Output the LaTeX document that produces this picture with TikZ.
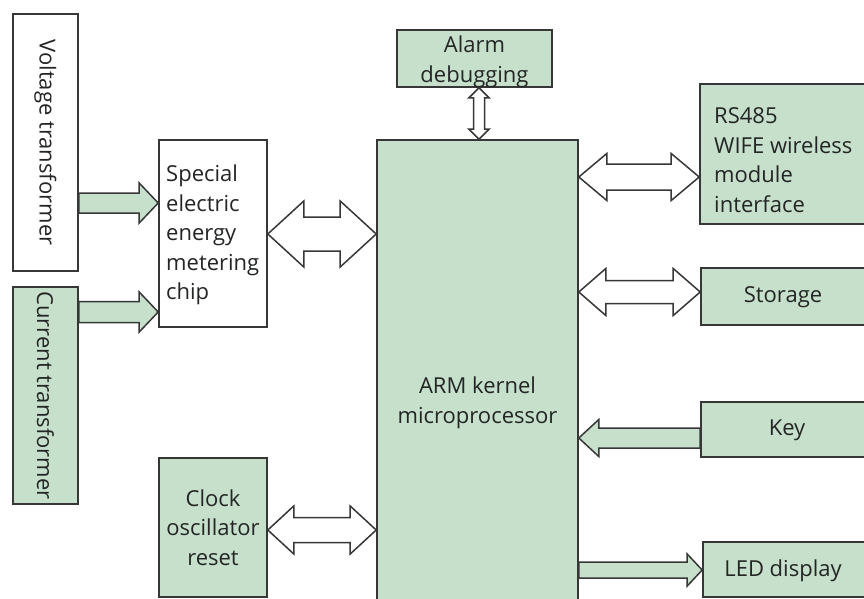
\documentclass[tikz,border=0pt]{standalone}
\usepackage{fontspec}
\setmainfont{Open Sans}
\usetikzlibrary{calc}
\definecolor{gfill}{RGB}{198,224,204}
\definecolor{lc}{RGB}{55,55,55}
\definecolor{tc}{RGB}{35,38,36}
% horizontal double arrow: #1 style, #2 left tip, #3 right tip, #4 head length, #5 head half-width, #6 body half-width
\newcommand{\DblH}[6]{\draw[#1] (#2) -- ++(#4,-#5) -- ++(0,#5-#6) -- ($(#3)+(-#4,-#6)$) -- ++(0,#6-#5) -- (#3) -- ++(-#4,#5) -- ++(0,#6-#5) -- ($(#2)+(#4,#6)$) -- ++(0,#5-#6) -- cycle;}
% vertical double arrow: #2 top tip, #3 bottom tip
\newcommand{\DblV}[6]{\draw[#1] (#2) -- ++(#5,#4) -- ++(#6-#5,0) -- ($(#3)+(#6,-#4)$) -- ++(#5-#6,0) -- (#3) -- ++(-#5,-#4) -- ++(#5-#6,0) -- ($(#2)+(-#6,#4)$) -- ++(#6-#5,0) -- cycle;}
% single arrow pointing right: #2 tail, #3 tip
\newcommand{\SglR}[6]{\draw[#1] ($(#2)+(0,-#6)$) -- ($(#3)+(-#4,-#6)$) -- ++(0,#6-#5) -- (#3) -- ++(-#4,#5) -- ++(0,#6-#5) -- ($(#2)+(0,#6)$) -- cycle;}
% single arrow pointing left: #2 tail, #3 tip
\newcommand{\SglL}[6]{\draw[#1] ($(#2)+(0,-#6)$) -- ($(#3)+(#4,-#6)$) -- ++(0,#6-#5) -- (#3) -- ++(#4,#5) -- ++(0,#6-#5) -- ($(#2)+(0,#6)$) -- cycle;}
\begin{document}
\begin{tikzpicture}[x=1pt,y=-1pt,
  blk/.style={draw=lc,line width=1.6pt,inner sep=0pt},
  gblk/.style={blk,fill=gfill},
  wblk/.style={blk,fill=white},
  txt/.style={text=tc,font=\fontsize{22}{29.5}\selectfont,inner sep=0pt},
  warrow/.style={draw=lc,line width=1.5pt,fill=white},
  garrow/.style={draw=lc,line width=1.5pt,fill=gfill}]
\useasboundingbox (0,0) rectangle (864,599);
\fill[white] (0,0) rectangle (864,599);

% boxes
\node[wblk,minimum width=65pt,minimum height=257pt] (volt) at (45.5,142.5) {};
\node[txt,rotate=-90] (volttxt) at (volt.center) {Voltage transformer};
\node[gblk,minimum width=65pt,minimum height=217pt] (curr) at (45.5,395.5) {};
\node[txt,rotate=-90] (currtxt) at (curr.center) {Current transformer};

\node[wblk,minimum width=108pt,minimum height=187pt] (chip) at (213,233.5) {};
\node[txt,align=left,anchor=west] (chiptxt) at (166,235) {Special\\electric\\energy\\metering\\chip};

\node[gblk,minimum width=108pt,minimum height=139pt] (clock) at (213,527.5) {};
\node[txt,align=center] (clocktxt) at (clock.center) {Clock\\oscillator\\reset};

\node[gblk,minimum width=201pt,minimum height=464pt] (arm) at (477.5,372) {};
\node[txt,align=center] (armtxt) at (477.5,403) {ARM kernel\\microprocessor};

\node[gblk,minimum width=155pt,minimum height=57pt] (alarm) at (474.5,58.5) {};
\node[txt,align=center] (alarmtxt) at (474.5,62) {Alarm\\debugging};

\node[gblk,minimum width=168pt,minimum height=140pt] (rs) at (784,154) {};
\node[txt,align=left,anchor=west] (rstxt) at (714,160) {RS485\\WIFE wireless\\module\\interface};

\node[gblk,minimum width=166pt,minimum height=57pt] (stor) at (784,296.5) {};
\node[txt] (stortxt) at (783,297) {Storage};

\node[gblk,minimum width=166pt,minimum height=55pt] (key) at (784,429.5) {};
\node[txt] (keytxt) at (787,430) {Key};

\node[gblk,minimum width=164pt,minimum height=55pt] (led) at (785,569.5) {};
\node[txt] (ledtxt) at (783,571) {LED display};

% connector end points
\coordinate (v1) at (volt.east |- 0,203);
\coordinate (v2) at (chip.west |- 0,203);
\coordinate (c1) at (curr.east |- 0,312);
\coordinate (c2) at (chip.west |- 0,312);
\coordinate (ca1) at (chip.east |- 0,234);
\coordinate (ca2) at (arm.west |- 0,234);
\coordinate (k1) at (clock.east |- 0,530);
\coordinate (k2) at (arm.west |- 0,530);
\coordinate (al1) at (alarm.south -| 479,0);
\coordinate (al2) at (arm.north -| 479,0);
\coordinate (r1) at (arm.east |- 0,177);
\coordinate (r2) at (rs.west |- 0,177);
\coordinate (s1) at (arm.east |- 0,292);
\coordinate (s2) at (stor.west |- 0,292);
\coordinate (y1) at (key.west |- 0,438);
\coordinate (y2) at (arm.east |- 0,438);
\coordinate (l1) at (arm.east |- 0,570);
\coordinate (l2) at (led.west |- 0,570);

% connectors
\SglR{garrow}{v1}{v2}{19}{20}{10}
\SglR{garrow}{c1}{c2}{19}{20}{10.5}
\DblH{warrow}{ca1}{ca2}{36}{33}{17}
\DblH{warrow}{k1}{k2}{26}{24}{12.5}
\DblV{warrow}{al1}{al2}{10}{10}{5.5}
\DblH{warrow}{r1}{r2}{28}{23.5}{13}
\DblH{warrow}{s1}{s2}{27}{23.5}{11.5}
\SglL{garrow}{y1}{y2}{20}{18.5}{10}
\SglR{garrow}{l1}{l2}{15}{16}{8}
\end{tikzpicture}
\end{document}
